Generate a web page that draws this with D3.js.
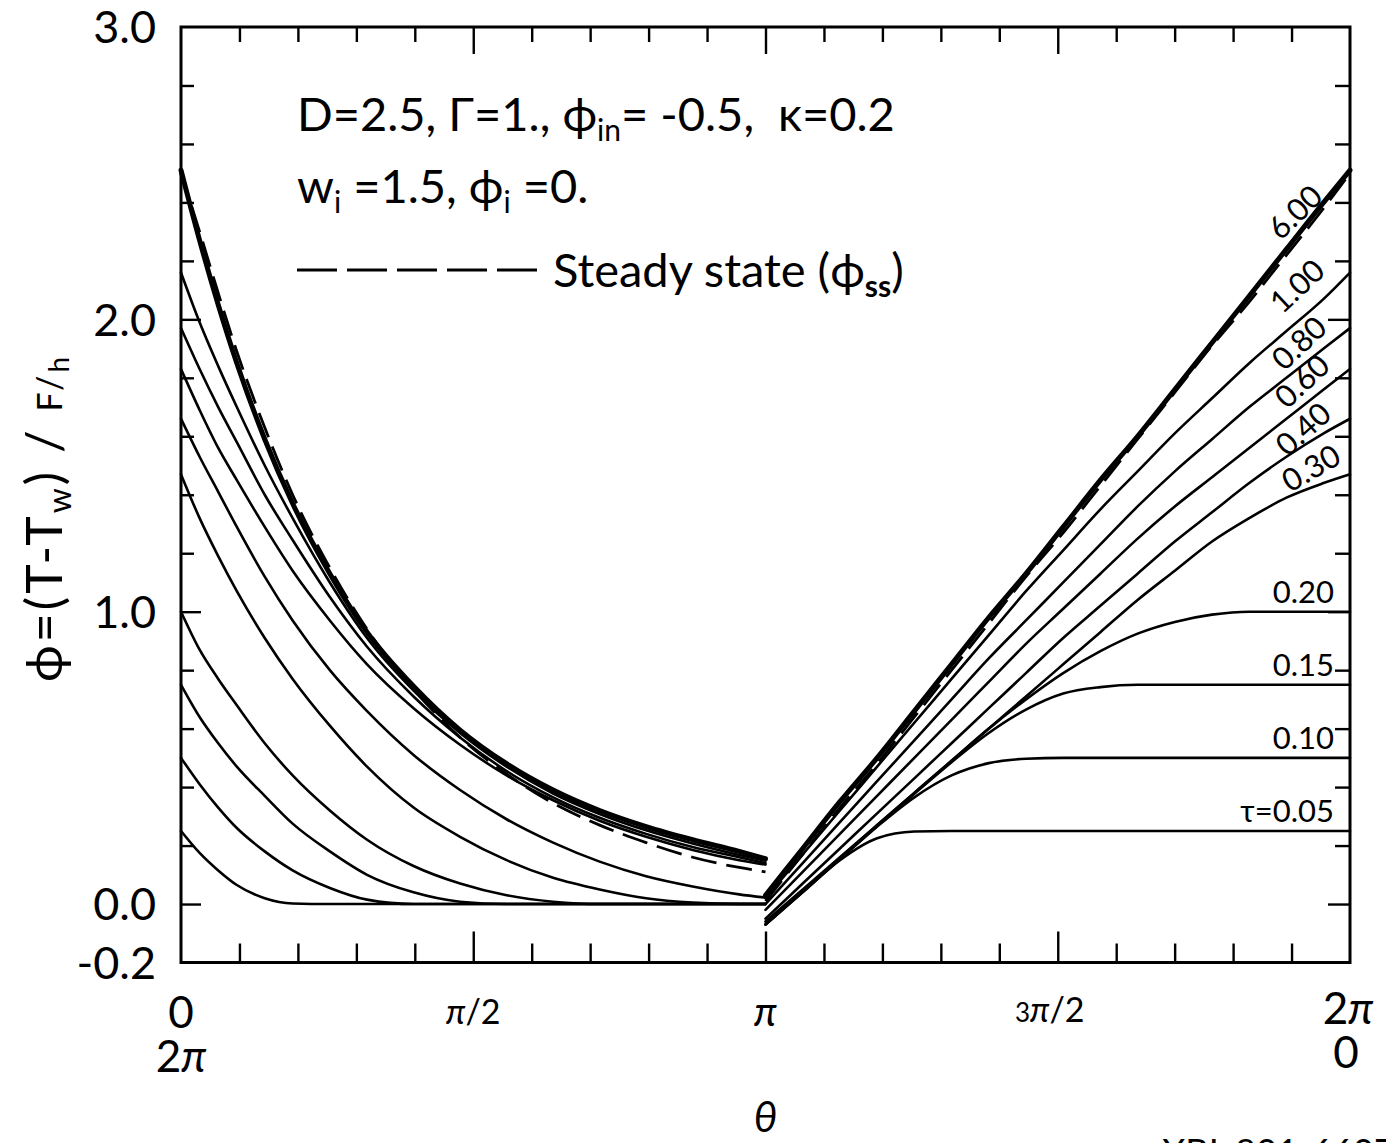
<!DOCTYPE html>
<html>
<head>
<meta charset="utf-8">
<script src="https://cdn.jsdelivr.net/npm/d3@7"></script>
<style>
  html, body { margin: 0; padding: 0; background: #fff; }
  svg text { font-family: Lato, "Open Sans", "DejaVu Sans", sans-serif; fill: #000; white-space: pre; }
</style>
</head>
<body>
<svg id="chart" width="1386" height="1143"></svg>
<script>
// θ grid on the cooled half (0 … π) and offsets from π on the heated half (π … 2π)
const thetaCooled = [0, 0.1, 0.2, 0.3, 0.45, 0.6, 0.8, 1.0, 1.25, 1.5, 1.75, 2.0, 2.25, 2.5, 2.75, 3.0, Math.PI];
const heatedOffset = [0, 0.2, 0.4, 0.6, 0.8, 1.0, 1.2, 1.4, 1.6, 1.8, 2.0, 2.2, 2.4, 2.6, 2.8, 3.0, Math.PI];

// ϕ on the cooled half, one array per τ
const tau005Cooled = [0.25, 0.175, 0.115, 0.065, 0.02, 0.002, 0, 0, 0, 0, 0, 0, 0, 0, 0, 0, 0];
const tau010Cooled = [0.50, 0.41, 0.33, 0.26, 0.18, 0.115, 0.055, 0.015, 0, 0, 0, 0, 0, 0, 0, 0, 0];
const tau015Cooled = [0.75, 0.64, 0.55, 0.47, 0.37, 0.275, 0.18, 0.10, 0.04, 0.008, 0, 0, 0, 0, 0, 0, 0];
const tau020Cooled = [1.00, 0.87, 0.77, 0.68, 0.55, 0.44, 0.32, 0.22, 0.13, 0.07, 0.03, 0.008, 0, 0, 0, 0, 0];
const tau030Cooled = [1.47, 1.32, 1.19, 1.07, 0.91, 0.77, 0.61, 0.47, 0.33, 0.23, 0.15, 0.09, 0.05, 0.02, 0.005, 0, 0];
const tau040Cooled = [1.66, 1.53, 1.41, 1.29, 1.12, 0.97, 0.80, 0.66, 0.51, 0.39, 0.29, 0.21, 0.145, 0.095, 0.06, 0.033, 0.022];
const tau060Cooled = [1.83, 1.69, 1.56, 1.45, 1.29, 1.14, 0.97, 0.82, 0.67, 0.545, 0.44, 0.355, 0.285, 0.23, 0.185, 0.15, 0.135];
const tau080Cooled = [1.97, 1.83, 1.70, 1.58, 1.40, 1.245, 1.05, 0.88, 0.71, 0.57, 0.455, 0.365, 0.295, 0.24, 0.195, 0.16, 0.14];
const tau100Cooled = [2.16, 1.99, 1.84, 1.70, 1.50, 1.32, 1.10, 0.91, 0.73, 0.585, 0.47, 0.378, 0.308, 0.252, 0.207, 0.168, 0.148];
const tau600Cooled = [2.51, 2.27, 2.05, 1.85, 1.59, 1.37, 1.13, 0.93, 0.745, 0.595, 0.48, 0.39, 0.32, 0.265, 0.22, 0.18, 0.155];
const steadyCooled = [2.50, 2.30, 2.09, 1.89, 1.63, 1.40, 1.15, 0.94, 0.735, 0.57, 0.445, 0.345, 0.27, 0.21, 0.16, 0.125, 0.11];

// ϕ on the heated half, one array per τ
const tau005Heated = [-0.07, 0.04, 0.15, 0.225, 0.248, 0.25, 0.25, 0.25, 0.25, 0.25, 0.25, 0.25, 0.25, 0.25, 0.25, 0.25, 0.25];
const tau010Heated = [-0.07, 0.042, 0.154, 0.265, 0.365, 0.44, 0.482, 0.497, 0.50, 0.50, 0.50, 0.50, 0.50, 0.50, 0.50, 0.50, 0.50];
const tau015Heated = [-0.07, 0.042, 0.154, 0.266, 0.377, 0.485, 0.585, 0.665, 0.72, 0.742, 0.75, 0.75, 0.75, 0.75, 0.75, 0.75, 0.75];
const tau020Heated = [-0.07, 0.045, 0.157, 0.27, 0.38, 0.49, 0.60, 0.70, 0.79, 0.865, 0.925, 0.965, 0.99, 1.0, 1.0, 1.0, 1.0];
const tau030Heated = [-0.06, 0.05, 0.16, 0.27, 0.38, 0.49, 0.60, 0.71, 0.82, 0.93, 1.04, 1.14, 1.24, 1.32, 1.39, 1.44, 1.47];
const tau040Heated = [-0.05, 0.07, 0.19, 0.31, 0.43, 0.55, 0.67, 0.79, 0.91, 1.02, 1.13, 1.24, 1.34, 1.44, 1.53, 1.61, 1.66];
const tau060Heated = [-0.02, 0.11, 0.24, 0.37, 0.50, 0.63, 0.76, 0.89, 1.01, 1.13, 1.25, 1.36, 1.46, 1.56, 1.66, 1.76, 1.83];
const tau080Heated = [0.0, 0.14, 0.28, 0.42, 0.56, 0.70, 0.84, 0.97, 1.10, 1.23, 1.36, 1.48, 1.59, 1.70, 1.80, 1.90, 1.97];
const tau100Heated = [0.02, 0.17, 0.32, 0.47, 0.62, 0.77, 0.92, 1.07, 1.21, 1.35, 1.48, 1.61, 1.73, 1.85, 1.96, 2.07, 2.16];
const tau600Heated = [0.03, 0.19, 0.35, 0.50, 0.66, 0.82, 0.98, 1.13, 1.29, 1.45, 1.60, 1.76, 1.92, 2.08, 2.24, 2.40, 2.51];
const steadyHeated = [0.01, 0.17, 0.33, 0.48, 0.64, 0.80, 0.96, 1.12, 1.27, 1.43, 1.59, 1.75, 1.91, 2.06, 2.22, 2.38, 2.50];

// curve labels
const slantLabels = ["6.00", "1.00", "0.80", "0.60", "0.40", "0.30"];
const flatLabels = ["0.20", "0.15", "0.10", "τ=0.05"];
const flatLabelValues = [1.0, 0.75, 0.5, 0.25];

// axis tick labels
const yTickLabels = ["-0.2", "0.0", "1.0", "2.0", "3.0"];
const yTickLabelValues = [-0.2, 0, 1, 2, 3];

const svg = d3.select("#chart");
const TWO_PI = 2 * Math.PI;
const x = d3.scaleLinear().domain([0, TWO_PI]).range([181, 1350]);
const y = d3.scaleLinear().domain([-0.2, 3.0]).range([962.5, 27]);

// ---- frame ----
svg.append("rect")
  .attr("x", x(0)).attr("y", y(3))
  .attr("width", x(TWO_PI) - x(0)).attr("height", y(-0.2) - y(3))
  .attr("fill", "none").attr("stroke", "#000").attr("stroke-width", 3);

// ---- inward ticks on all four sides ----
function ticks(axis, transform, values, size) {
  const g = svg.append("g").attr("transform", transform)
    .call(axis.tickValues(values).tickSizeInner(size).tickSizeOuter(0).tickFormat(""));
  g.select(".domain").remove();
  g.selectAll(".tick line").attr("stroke", "#000").attr("stroke-width", 2.4);
}
const xMinor = d3.range(1, 20).filter(k => k % 5 !== 0).map(k => k * Math.PI / 10);
const xMajor = [Math.PI / 2, Math.PI, 3 * Math.PI / 2];
const yMinor = d3.range(0, 15).map(k => +(0.2 * k).toFixed(1)).filter(v => v % 1 !== 0);
const yMajor = [0, 1, 2];

ticks(d3.axisBottom(x), `translate(0,${y(-0.2)})`, xMinor, -19);
ticks(d3.axisBottom(x), `translate(0,${y(-0.2)})`, xMajor, -31);
ticks(d3.axisTop(x), `translate(0,${y(3)})`, xMinor, -15);
ticks(d3.axisTop(x), `translate(0,${y(3)})`, xMajor, -27);
ticks(d3.axisLeft(y), `translate(${x(0)},0)`, yMinor, -13);
ticks(d3.axisLeft(y), `translate(${x(0)},0)`, yMajor, -20);
ticks(d3.axisRight(y), `translate(${x(TWO_PI)},0)`, yMinor, -15);
ticks(d3.axisRight(y), `translate(${x(TWO_PI)},0)`, yMajor, -22);

// ---- curves ----
const line = d3.line().x(d => x(d[0])).y(d => y(d[1])).curve(d3.curveMonotoneX);
const heatedTheta = heatedOffset.map(d => Math.PI + d);

const solidSeries = [
  [tau005Cooled, tau005Heated, 2.6],
  [tau010Cooled, tau010Heated, 2.6],
  [tau015Cooled, tau015Heated, 2.6],
  [tau020Cooled, tau020Heated, 2.6],
  [tau030Cooled, tau030Heated, 2.6],
  [tau040Cooled, tau040Heated, 2.6],
  [tau060Cooled, tau060Heated, 2.6],
  [tau080Cooled, tau080Heated, 2.6],
  [tau100Cooled, tau100Heated, 2.6],
  [tau600Cooled, tau600Heated, 5]
];
const curves = svg.append("g").attr("fill", "none").attr("stroke", "#000").attr("stroke-linecap", "round");
solidSeries.forEach(([cooled, heated, w]) => {
  curves.append("path").attr("d", line(d3.zip(thetaCooled, cooled))).attr("stroke-width", w);
  curves.append("path").attr("d", line(d3.zip(heatedTheta, heated))).attr("stroke-width", w);
});
// steady state, dashed
[[thetaCooled, steadyCooled], [heatedTheta, steadyHeated]].forEach(([t, v]) => {
  curves.append("path").attr("d", line(d3.zip(t, v)))
    .attr("stroke-width", 2.8).attr("stroke-dasharray", "26,10").attr("stroke-linecap", "butt");
});

// ---- curve labels ----
const slantPos = [[1295, 212], [1297, 286], [1299, 343], [1302, 381], [1303, 429], [1311, 468]];
const slantAngle = [-44, -43, -43, -43, -42, -30];
slantLabels.forEach((t, i) => {
  svg.append("text")
    .attr("transform", `translate(${slantPos[i][0]},${slantPos[i][1]}) rotate(${slantAngle[i]})`)
    .attr("text-anchor", "middle").attr("dy", "0.36em")
    .attr("font-size", 31).text(t);
});
flatLabels.forEach((t, i) => {
  svg.append("text")
    .attr("x", 1334).attr("y", y(flatLabelValues[i]) - 9)
    .attr("text-anchor", "end").attr("font-size", 31).text(t);
});

// ---- y tick labels ----
yTickLabels.forEach((t, i) => {
  svg.append("text")
    .attr("x", 156).attr("y", y(yTickLabelValues[i]))
    .attr("dy", "0.36em").attr("text-anchor", "end")
    .attr("font-size", 45).text(t);
});

// ---- x tick labels ----
function xLabel(xx, yy, parts, size) {
  const t = svg.append("text").attr("x", xx).attr("y", yy).attr("text-anchor", "middle")
    .attr("font-size", size);
  parts.forEach(p => {
    const s = t.append("tspan").text(p.text);
    if (p.italic) s.attr("font-style", "italic");
    if (p.size) s.attr("font-size", p.size);
  });
}
xLabel(x(0), 1028, [{ text: "0" }], 44);
xLabel(x(0), 1072, [{ text: "2" }, { text: "π", italic: true }], 44);
xLabel(x(Math.PI / 2), 1024, [{ text: "π", italic: true }, { text: "/2" }], 34);
xLabel(x(Math.PI), 1026, [{ text: "π", italic: true }], 40);
xLabel(x(3 * Math.PI / 2) - 8, 1022, [{ text: "3", size: 26 }, { text: "π", italic: true }, { text: "/2" }], 34);
xLabel(x(TWO_PI) - 2, 1024, [{ text: "2" }, { text: "π", italic: true }], 44);
xLabel(x(TWO_PI) - 4, 1068, [{ text: "0" }], 44);

// axis titles
svg.append("text").attr("x", x(Math.PI)).attr("y", 1132).attr("text-anchor", "middle")
  .attr("font-size", 42).attr("font-style", "italic").text("θ");

const yTitle = svg.append("text")
  .attr("transform", "translate(62,518) rotate(-90)")
  .attr("text-anchor", "middle").attr("font-size", 50)
  .attr("letter-spacing", 3);
yTitle.append("tspan").text("ϕ=(T-T");
yTitle.append("tspan").attr("font-size", 32).attr("dy", 9).text("w");
yTitle.append("tspan").attr("dy", -9).text(") / ");
yTitle.append("tspan").attr("font-size", 34).text("F/");
yTitle.append("tspan").attr("font-size", 28).attr("dy", 7).text("h");

// ---- parameter block and legend ----
const p1 = svg.append("text").attr("x", 297).attr("y", 131).attr("font-size", 47);
p1.append("tspan").text("D=2.5, Γ=1., ϕ");
p1.append("tspan").attr("font-size", 30).attr("dy", 10).text("in");
p1.append("tspan").attr("dy", -10).text("= -0.5,  κ=0.2");

const p2 = svg.append("text").attr("x", 297).attr("y", 203).attr("font-size", 47);
p2.append("tspan").text("w");
p2.append("tspan").attr("font-size", 30).attr("dy", 10).text("i");
p2.append("tspan").attr("dy", -10).text(" =1.5, ϕ");
p2.append("tspan").attr("font-size", 30).attr("dy", 10).text("i");
p2.append("tspan").attr("dy", -10).text(" =0.");

svg.append("line").attr("x1", 297).attr("x2", 537).attr("y1", 270).attr("y2", 270)
  .attr("stroke", "#000").attr("stroke-width", 3).attr("stroke-dasharray", "40,10");
const lg = svg.append("text").attr("x", 553).attr("y", 287).attr("font-size", 47);
lg.append("tspan").text("Steady state (ϕ");
lg.append("tspan").attr("font-size", 30).attr("dy", 10).attr("font-weight", 700).text("ss");
lg.append("tspan").attr("dy", -10).text(")");

// figure number along the bottom edge
svg.append("text").attr("x", 1162).attr("y", 1165).attr("font-size", 36).text("XBL 801-6607");
</script>
</body>
</html>
